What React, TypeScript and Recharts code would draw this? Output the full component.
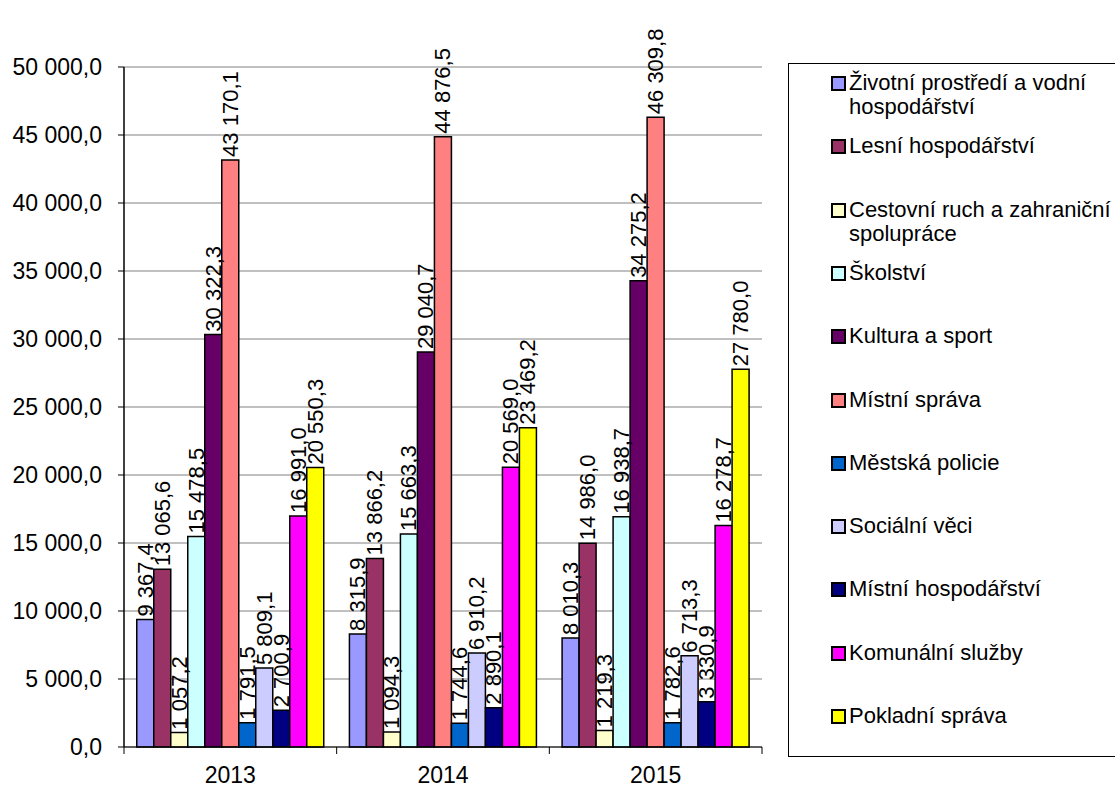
import React from "react";
import {
  Bar,
  BarChart,
  CartesianGrid,
  LabelList,
  XAxis,
  YAxis,
} from "recharts";

const years = ["2013", "2014", "2015"];

const seriesNames = [
  "Životní prostředí a vodní hospodářství",
  "Lesní hospodářství",
  "Cestovní ruch a zahraniční spolupráce",
  "Školství",
  "Kultura a sport",
  "Místní správa",
  "Městská policie",
  "Sociální věci",
  "Místní hospodářství",
  "Komunální služby",
  "Pokladní správa",
];

const legendLines = [
  ["Životní prostředí a vodní", "hospodářství"],
  ["Lesní hospodářství"],
  ["Cestovní ruch a zahraniční", "spolupráce"],
  ["Školství"],
  ["Kultura a sport"],
  ["Místní správa"],
  ["Městská policie"],
  ["Sociální věci"],
  ["Místní hospodářství"],
  ["Komunální služby"],
  ["Pokladní správa"],
];

const seriesColors = [
  "#9999ff",
  "#993366",
  "#ffffcc",
  "#ccffff",
  "#660066",
  "#ff8080",
  "#0066cc",
  "#ccccff",
  "#000080",
  "#ff00ff",
  "#ffff00",
];

// one array per year, in series order
const values2013 = [9367.4, 13065.6, 1057.2, 15478.5, 30322.3, 43170.1, 1791.5, 5809.1, 2700.9, 16991.0, 20550.3];
const values2014 = [8315.9, 13866.2, 1094.3, 15663.3, 29040.7, 44876.5, 1744.6, 6910.2, 2890.1, 20569.0, 23469.2];
const values2015 = [8010.3, 14986.0, 1219.3, 16938.7, 34275.2, 46309.8, 1782.6, 6713.3, 3330.9, 16278.7, 27780.0];

const yTicks = [0, 5000, 10000, 15000, 20000, 25000, 30000, 35000, 40000, 45000, 50000];

const yearValues = [values2013, values2014, values2015];

const data = years.map((year, i) => {
  const row: Record<string, string | number> = { year };
  seriesNames.forEach((_, s) => {
    row["s" + s] = yearValues[i][s];
  });
  return row;
});

const FONT = '"Liberation Sans", Arial, sans-serif';

function formatCz(n: number) {
  const [intPart, dec] = n.toFixed(1).split(".");
  const grouped = intPart.replace(/\B(?=(\d{3})+(?!\d))/g, " ");
  return grouped + "," + dec;
}

function BarValueLabel(props: any) {
  const { x, y, width, value } = props;
  const cx = Number(x) + Number(width) / 2;
  const cy = Number(y) - 3;
  return (
    <text
      x={cx}
      y={cy}
      transform={`rotate(-90 ${cx} ${cy})`}
      textAnchor="start"
      dominantBaseline="central"
      fontSize={22}
      fontFamily={FONT}
      fill="#000"
    >
      {formatCz(Number(value))}
    </text>
  );
}

function YearTick(props: any) {
  const { x, y, payload, index, visibleTicksCount } = props;
  const half = payload && payload.offset ? payload.offset : 107;
  const isLast = index === visibleTicksCount - 1;
  return (
    <g>
      <line x1={x - half} y1={y} x2={x - half} y2={y + 7} stroke="#000" strokeWidth={1} />
      {isLast && (
        <line x1={x + half} y1={y} x2={x + half} y2={y + 7} stroke="#000" strokeWidth={1} />
      )}
      <text
        x={x}
        y={y + 36}
        textAnchor="middle"
        fontSize={23}
        fontFamily={FONT}
        fill="#000"
      >
        {payload.value}
      </text>
    </g>
  );
}

function ChartLegend() {
  return (
    <div
      style={{
        position: "absolute",
        left: 788,
        top: 63,
        width: 340,
        height: 694,
        border: "1px solid #000",
        boxSizing: "border-box",
        background: "#fff",
        fontFamily: FONT,
        fontSize: 22,
        color: "#000",
      }}
    >
      {legendLines.map((lines, i) => (
        <div
          key={i}
          style={{
            position: "absolute",
            left: 42,
            top: 7 + i * 63.3,
            display: "flex",
            alignItems: "flex-start",
            whiteSpace: "nowrap",
          }}
        >
          <span
            style={{
              display: "inline-block",
              width: 11,
              height: 11,
              marginTop: 5,
              marginRight: 3,
              border: "2px solid #000",
              background: seriesColors[i],
              flex: "none",
            }}
          />
          <span style={{ lineHeight: "24px" }}>
            {lines.map((l, k) => (
              <div key={k}>{l}</div>
            ))}
          </span>
        </div>
      ))}
    </div>
  );
}

export default function App() {
  return (
    <div
      style={{
        position: "absolute",
        left: 0,
        top: 0,
        width: 1115,
        height: 789,
        background: "#fff",
        overflow: "hidden",
      }}
    >
      <BarChart
        width={1115}
        height={789}
        data={data}
        margin={{ top: 67, right: 353, bottom: 12, left: 0 }}
        barCategoryGap="6%"
        barGap={0}
      >
        <CartesianGrid vertical={false} stroke="#808080" strokeWidth={1} />
        <XAxis
          dataKey="year"
          height={30}
          tickLine={false}
          tickSize={0}
          tickMargin={0}
          axisLine={{ stroke: "#000", strokeWidth: 1 }}
          tick={<YearTick />}
          interval={0}
        />
        <YAxis
          width={124}
          domain={[0, 50000]}
          ticks={yTicks}
          tickFormatter={formatCz}
          tickSize={6}
          tickMargin={16}
          tickLine={{ stroke: "#000" }}
          axisLine={{ stroke: "#000", strokeWidth: 1.5 }}
          tick={{ fontSize: 23, fontFamily: FONT, fill: "#000" }}
          interval={0}
        />
        <YAxis
          yAxisId="frame"
          orientation="right"
          width={0}
          domain={[0, 50000]}
          tick={false}
          tickLine={false}
          axisLine={{ stroke: "#a0a0a0", strokeWidth: 1.5 }}
        />
        {seriesNames.map((name, s) => (
          <Bar
            key={name}
            dataKey={"s" + s}
            name={name}
            fill={seriesColors[s]}
            stroke="#000"
            strokeWidth={1.5}
            isAnimationActive={false}
          >
            <LabelList dataKey={"s" + s} content={<BarValueLabel />} />
          </Bar>
        ))}
      </BarChart>
      <ChartLegend />
    </div>
  );
}
